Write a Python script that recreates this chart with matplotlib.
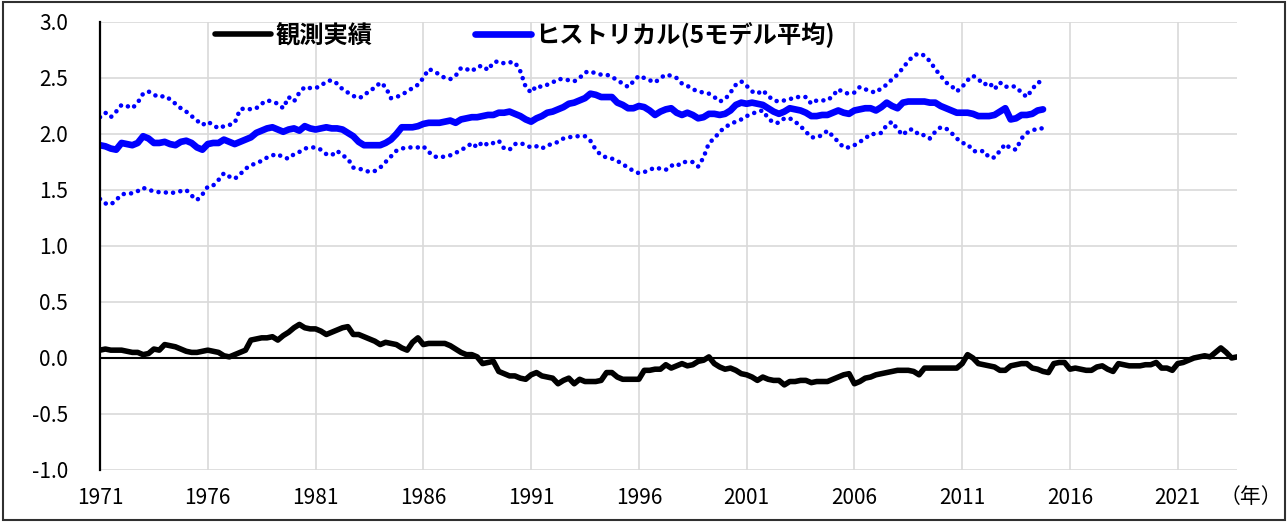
import numpy as np
import matplotlib
matplotlib.use("Agg")
import matplotlib.pyplot as plt
from matplotlib.patches import Rectangle

plt.rcParams['font.family'] = ['Noto Sans CJK JP', 'DejaVu Sans']

# quarterly values, 1971Q1 .. 2023Q4 (observed)
obs = [
    0.07, 0.08, 0.07, 0.07,   0.07, 0.06, 0.05, 0.05,   0.03, 0.04, 0.08, 0.07,   # 1971-73
    0.12, 0.11, 0.10, 0.08,   0.06, 0.05, 0.05, 0.06,   0.07, 0.06, 0.05, 0.02,   # 1974-76
    0.01, 0.03, 0.05, 0.07,   0.16, 0.17, 0.18, 0.18,   0.19, 0.16, 0.20, 0.23,   # 1977-79
    0.27, 0.30, 0.27, 0.26,   0.26, 0.24, 0.21, 0.23,   0.25, 0.27, 0.28, 0.21,   # 1980-82
    0.21, 0.19, 0.17, 0.15,   0.12, 0.14, 0.13, 0.12,   0.09, 0.07, 0.14, 0.18,   # 1983-85
    0.12, 0.13, 0.13, 0.13,   0.13, 0.11, 0.08, 0.05,   0.03, 0.03, 0.01, -0.05,  # 1986-88
    -0.04, -0.03, -0.12, -0.14, -0.16, -0.16, -0.18, -0.19, -0.15, -0.13, -0.16, -0.17,  # 1989-91
    -0.18, -0.23, -0.20, -0.18, -0.23, -0.19, -0.21, -0.21, -0.21, -0.20, -0.13, -0.13,  # 1992-94
    -0.17, -0.19, -0.19, -0.19, -0.19, -0.11, -0.11, -0.10, -0.10, -0.06, -0.09, -0.07,  # 1995-97
    -0.05, -0.07, -0.06, -0.03, -0.02, 0.01, -0.05, -0.08,  -0.10, -0.09, -0.11, -0.14,  # 1998-2000
    -0.15, -0.17, -0.20, -0.17, -0.19, -0.20, -0.20, -0.24, -0.21, -0.21, -0.20, -0.20,  # 2001-03
    -0.22, -0.21, -0.21, -0.21, -0.19, -0.17, -0.15, -0.14, -0.23, -0.21, -0.18, -0.17,  # 2004-06
    -0.15, -0.14, -0.13, -0.12, -0.11, -0.11, -0.11, -0.12, -0.15, -0.09, -0.09, -0.09,  # 2007-09
    -0.09, -0.09, -0.09, -0.09, -0.05, 0.03, 0.00, -0.05,   -0.06, -0.07, -0.08, -0.11,  # 2010-12
    -0.11, -0.07, -0.06, -0.05, -0.05, -0.09, -0.10, -0.12, -0.13, -0.05, -0.04, -0.04,  # 2013-15
    -0.10, -0.09, -0.10, -0.11, -0.11, -0.08, -0.07, -0.10, -0.12, -0.05, -0.06, -0.07,  # 2016-18
    -0.07, -0.07, -0.06, -0.06, -0.04, -0.09, -0.09, -0.11, -0.05, -0.04, -0.02, 0.00,   # 2019-21
    0.01, 0.02, 0.01, 0.05,   0.09, 0.05, 0.00, 0.01,                                   # 2022-23
]

# historical runs, 5-model mean and range, 1971Q1 .. 2014Q4
hist_mean = [
    1.90, 1.89, 1.87, 1.86,  1.92, 1.91, 1.90, 1.92,  1.98, 1.96, 1.92, 1.92,
    1.93, 1.91, 1.90, 1.93,  1.94, 1.92, 1.88, 1.86,  1.91, 1.92, 1.92, 1.95,
    1.93, 1.91, 1.93, 1.95,  1.97, 2.01, 2.03, 2.05,  2.06, 2.04, 2.02, 2.04,
    2.05, 2.03, 2.07, 2.05,  2.04, 2.05, 2.06, 2.05,  2.05, 2.04, 2.01, 1.98,
    1.93, 1.90, 1.90, 1.90,  1.90, 1.92, 1.95, 2.00,  2.06, 2.06, 2.06, 2.07,
    2.09, 2.10, 2.10, 2.10,  2.11, 2.12, 2.10, 2.13,  2.14, 2.15, 2.15, 2.16,
    2.17, 2.17, 2.19, 2.19,  2.20, 2.18, 2.16, 2.13,  2.11, 2.14, 2.16, 2.19,
    2.20, 2.22, 2.24, 2.27,  2.28, 2.30, 2.32, 2.36,  2.35, 2.33, 2.33, 2.33,
    2.28, 2.26, 2.23, 2.23,  2.25, 2.24, 2.21, 2.17,  2.20, 2.22, 2.23, 2.19,
    2.17, 2.19, 2.17, 2.14,  2.15, 2.18, 2.18, 2.17,  2.18, 2.21, 2.26, 2.28,
    2.27, 2.28, 2.27, 2.26,  2.23, 2.20, 2.18, 2.20,  2.23, 2.22, 2.21, 2.19,
    2.16, 2.16, 2.17, 2.17,  2.19, 2.21, 2.19, 2.18,  2.21, 2.22, 2.23, 2.23,
    2.21, 2.24, 2.28, 2.25,  2.23, 2.28, 2.29, 2.29,  2.29, 2.29, 2.28, 2.28,
    2.25, 2.23, 2.21, 2.19,  2.19, 2.19, 2.18, 2.16,  2.16, 2.16, 2.17, 2.20,
    2.23, 2.13, 2.14, 2.17,  2.17, 2.18, 2.21, 2.22,
]
hist_upper = [
    2.15, 2.19, 2.15, 2.20,  2.26, 2.25, 2.23, 2.28,  2.36, 2.38, 2.35, 2.33,
    2.34, 2.31, 2.27, 2.23,  2.20, 2.16, 2.12, 2.08,  2.11, 2.08, 2.05, 2.07,
    2.08, 2.10, 2.22, 2.23,  2.22, 2.23, 2.27, 2.30,  2.29, 2.27, 2.23, 2.33,
    2.29, 2.37, 2.42, 2.41,  2.41, 2.43, 2.47, 2.48,  2.45, 2.40, 2.37, 2.34,
    2.32, 2.34, 2.39, 2.41,  2.46, 2.42, 2.32, 2.33,  2.35, 2.38, 2.41, 2.44,
    2.50, 2.58, 2.56, 2.53,  2.50, 2.49, 2.52, 2.59,  2.58, 2.56, 2.60, 2.61,
    2.57, 2.64, 2.65, 2.63,  2.64, 2.64, 2.56, 2.42,  2.37, 2.43, 2.42, 2.44,
    2.46, 2.49, 2.49, 2.48,  2.47, 2.50, 2.55, 2.56,  2.54, 2.53, 2.53, 2.51,
    2.48, 2.45, 2.42, 2.47,  2.52, 2.50, 2.48, 2.46,  2.50, 2.53, 2.52, 2.50,
    2.45, 2.43, 2.40, 2.38,  2.37, 2.36, 2.33, 2.29,  2.31, 2.37, 2.44, 2.47,
    2.43, 2.38, 2.36, 2.39,  2.34, 2.30, 2.29, 2.30,  2.31, 2.33, 2.33, 2.33,
    2.27, 2.30, 2.30, 2.30,  2.34, 2.40, 2.37, 2.36,  2.37, 2.42, 2.40, 2.38,
    2.37, 2.41, 2.44, 2.49,  2.53, 2.59, 2.65, 2.70,  2.72, 2.70, 2.65, 2.58,
    2.52, 2.46, 2.43, 2.38,  2.42, 2.48, 2.52, 2.49,  2.44, 2.46, 2.40, 2.46,
    2.42, 2.43, 2.42, 2.37,  2.33, 2.40, 2.46, 2.47,
]
hist_lower = [
    1.42, 1.38, 1.37, 1.41,  1.46, 1.47, 1.47, 1.49,  1.52, 1.50, 1.49, 1.48,
    1.48, 1.47, 1.48, 1.49,  1.50, 1.45, 1.41, 1.46,  1.53, 1.54, 1.59, 1.65,
    1.62, 1.60, 1.64, 1.69,  1.72, 1.74, 1.76, 1.79,  1.81, 1.82, 1.79, 1.78,
    1.82, 1.84, 1.87, 1.88,  1.88, 1.86, 1.82, 1.81,  1.85, 1.81, 1.78, 1.70,
    1.69, 1.68, 1.66, 1.67,  1.70, 1.75, 1.80, 1.85,  1.87, 1.88, 1.88, 1.88,
    1.89, 1.84, 1.80, 1.79,  1.80, 1.81, 1.83, 1.86,  1.88, 1.92, 1.88, 1.93,
    1.90, 1.92, 1.94, 1.87,  1.86, 1.91, 1.92, 1.90,  1.88, 1.89, 1.87, 1.90,
    1.91, 1.93, 1.96, 1.97,  1.98, 1.98, 1.98, 1.94,  1.86, 1.81, 1.79, 1.78,
    1.76, 1.73, 1.70, 1.67,  1.65, 1.66, 1.68, 1.70,  1.69, 1.68, 1.72, 1.71,
    1.75, 1.75, 1.75, 1.71,  1.79, 1.92, 1.96, 2.02,  2.06, 2.09, 2.11, 2.13,
    2.16, 2.18, 2.20, 2.21,  2.14, 2.10, 2.10, 2.14,  2.14, 2.11, 2.07, 2.02,
    1.97, 1.97, 1.99, 2.03,  1.98, 1.93, 1.88, 1.88,  1.90, 1.93, 1.96, 2.00,
    2.00, 2.01, 2.08, 2.11,  2.04, 1.99, 2.04, 2.04,  1.99, 1.99, 1.96, 2.02,
    2.06, 2.05, 2.01, 1.96,  1.92, 1.91, 1.85, 1.84,  1.85, 1.79, 1.79, 1.85,
    1.91, 1.87, 1.86, 1.96,  2.01, 2.03, 2.05, 2.05,
]

tick_years = [1971, 1976, 1981, 1986, 1991, 1996, 2001, 2006, 2011, 2016, 2021]
y_ticks = [-1.0, -0.5, 0.0, 0.5, 1.0, 1.5, 2.0, 2.5, 3.0]

t_obs = 1971 + 0.25 * np.arange(len(obs))
t_hist = 1971 + 0.25 * np.arange(len(hist_mean))

fig = plt.figure(figsize=(12.88, 5.22), dpi=100)
ax = fig.add_axes([100 / 1288, 1 - 470 / 522, 1137 / 1288, 448 / 522])

grid_c = '#d9d9d9'
for y in y_ticks:
    if y != 0.0:
        ax.axhline(y, color=grid_c, lw=1.2, zorder=0)
for yr in tick_years[1:]:
    ax.axvline(yr, color=grid_c, lw=1.2, zorder=0)
ax.axhline(0.0, color='black', lw=1.5, zorder=1)

dots = (0, (0.01, 1.6))
ax.plot(t_hist, hist_upper, color='#0000ff', lw=3.3, ls=dots, dash_capstyle='round', zorder=2)
ax.plot(t_hist, hist_lower, color='#0000ff', lw=3.3, ls=dots, dash_capstyle='round', zorder=2)
l_hist, = ax.plot(t_hist, hist_mean, color='#0000ff', lw=4.8, solid_joinstyle='round',
                  solid_capstyle='round', zorder=3)
l_obs, = ax.plot(t_obs, obs, color='black', lw=4.0, solid_joinstyle='round',
                 solid_capstyle='round', zorder=4)

ax.set_xlim(1971, 2023.75)
ax.set_ylim(-1.0, 3.0)
ax.set_xticks(tick_years)
ax.set_xticklabels([str(y) for y in tick_years])
ax.set_yticks(y_ticks)
ax.set_yticklabels(['%.1f' % v for v in y_ticks])
ax.tick_params(axis='both', length=0, labelsize=15)
ax.tick_params(axis='y', pad=23)
ax.tick_params(axis='x', pad=12)
for s in ['top', 'right', 'bottom']:
    ax.spines[s].set_visible(False)
ax.spines['left'].set_linewidth(1.6)
ax.spines['left'].set_zorder(5)

fig.text(1251 / 1288, 1 - 497 / 522, '（年）', fontsize=15, ha='center', va='center')

leg = ax.legend([l_obs, l_hist], ['観測実績', 'ヒストリカル(5モデル平均)'],
                ncol=2, frameon=False, loc='center left',
                bbox_to_anchor=(215 / 1288, 1 - 35 / 522), bbox_transform=fig.transFigure,
                borderpad=0, borderaxespad=0, handlelength=2.3, handletextpad=0.2,
                columnspacing=4.2, prop={'size': 17.5, 'weight': 'bold'})

fig.patches.append(Rectangle((0.002, 0.003), 0.996, 0.994, transform=fig.transFigure,
                             fill=False, edgecolor='#303030', lw=1.5))

fig.savefig('out.png', dpi=100)
